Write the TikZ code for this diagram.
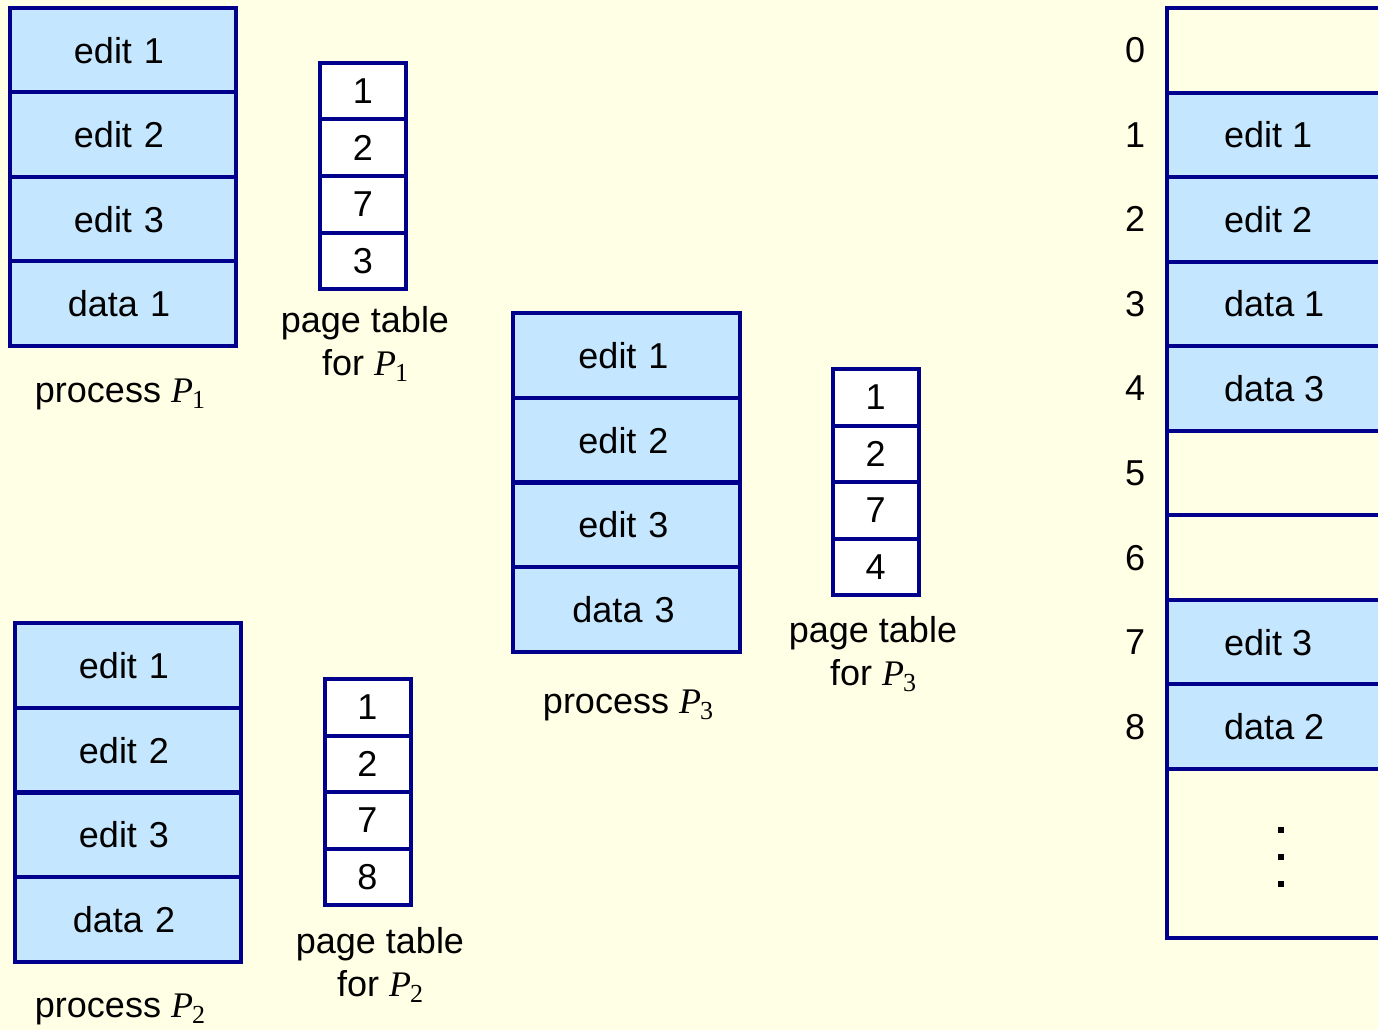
\documentclass[tikz,border=0pt]{standalone}
\usepackage{fontspec}
\setmainfont{Liberation Sans}
\newfontfamily\tms{Liberation Serif}
\definecolor{bg}{HTML}{FFFFE6}
\definecolor{cellblue}{HTML}{C4E6FE}
\definecolor{navyframe}{HTML}{00008C}
\newcommand\Pn[1]{{\tms\itshape P}\kern-1pt\raisebox{-0.17em}{\tms\fontsize{26}{26}\selectfont #1}}
\tikzset{
  txt/.style={font=\fontsize{36}{43}\selectfont, inner sep=0pt},
  proc/.style={txt, draw=navyframe, line width=4pt, fill=cellblue, minimum width=226pt, minimum height=84.6pt},
  ptab/.style={txt, draw=navyframe, line width=4pt, fill=white, minimum width=86pt, minimum height=56.5pt},
  mem/.style={draw=navyframe, line width=4pt, minimum width=283pt, minimum height=84.56pt, inner sep=0pt},
  memfull/.style={mem, fill=cellblue},
  memfree/.style={mem, fill=bg},
  lbl/.style={txt, align=center},
}
\begin{document}
\begin{tikzpicture}[x=1pt,y=-1pt]
\fill[bg] (0,0) rectangle (1378,1030);
\useasboundingbox (0,0) rectangle (1378,1030);
\clip (0,0) rectangle (1378,1030);

% process P1
\foreach \t [count=\i from 0] in {edit 1,edit 2,edit 3,data 1}
  \node[proc, text width=220pt, align=center] (p1c\i) at (123,{50.25+84.5*\i}) {\hspace*{-8pt}\t};
\node[txt] (p1lbl) at (120,394) {process \Pn{1}};
% page table P1
\foreach \t [count=\i from 0] in {1,2,7,3}
  \node[ptab] (t1c\i) at (363,{91.25+56.5*\i}) {\t};
\node[lbl] (t1lbl) at (365,344) {page table\\for \Pn{1}};

% process P2
\foreach \t [count=\i from 0] in {edit 1,edit 2,edit 3,data 2}
  \node[proc, text width=220pt, align=center] (p2c\i) at (128,{665.4+84.75*\i}) {\hspace*{-8pt}\t};
\node[txt] (p2lbl) at (120,1009) {process \Pn{2}};
% page table P2
\foreach \t [count=\i from 0] in {1,2,7,8}
  \node[ptab] (t2c\i) at (367.5,{707.25+56.5*\i}) {\t};
\node[lbl] (t2lbl) at (380,965) {page table\\for \Pn{2}};

% process P3
\foreach \t [count=\i from 0] in {edit 1,edit 2,edit 3,data 3}
  \node[proc, minimum width=227pt, text width=220pt, align=center] (p3c\i) at (626.5,{355.4+84.75*\i}) {\hspace*{-6pt}\t};
\node[txt] (p3lbl) at (628,705) {process \Pn{3}};
% page table P3
\foreach \t [count=\i from 0] in {1,2,7,4}
  \node[ptab] (t3c\i) at (875.5,{397.25+56.5*\i}) {\t};
\node[lbl] (t3lbl) at (873,654) {page table\\for \Pn{3}};

% physical memory
\foreach \t/\s [count=\i from 0] in {/memfree,edit 1/memfull,edit 2/memfull,data 1/memfull,data 3/memfull,/memfree,/memfree,edit 3/memfull,data 2/memfull}{
  \node[\s] (m\i) at (1308.5,{8+84.56*(\i+0.5)}) {};
  \node[txt, anchor=west] (mt\i) at (1224,{8+84.56*(\i+0.5)}) {\t};
  \node[txt] (fn\i) at (1135,{8+84.56*(\i+0.5)}) {\i};
}
\node[memfree, minimum height=169pt] (mrest) at (1308.5,853.5) {};
\foreach \y [count=\j] in {830,857,884}
  \fill (1278,\y-3) rectangle (1284,\y+3);
\end{tikzpicture}
\end{document}
